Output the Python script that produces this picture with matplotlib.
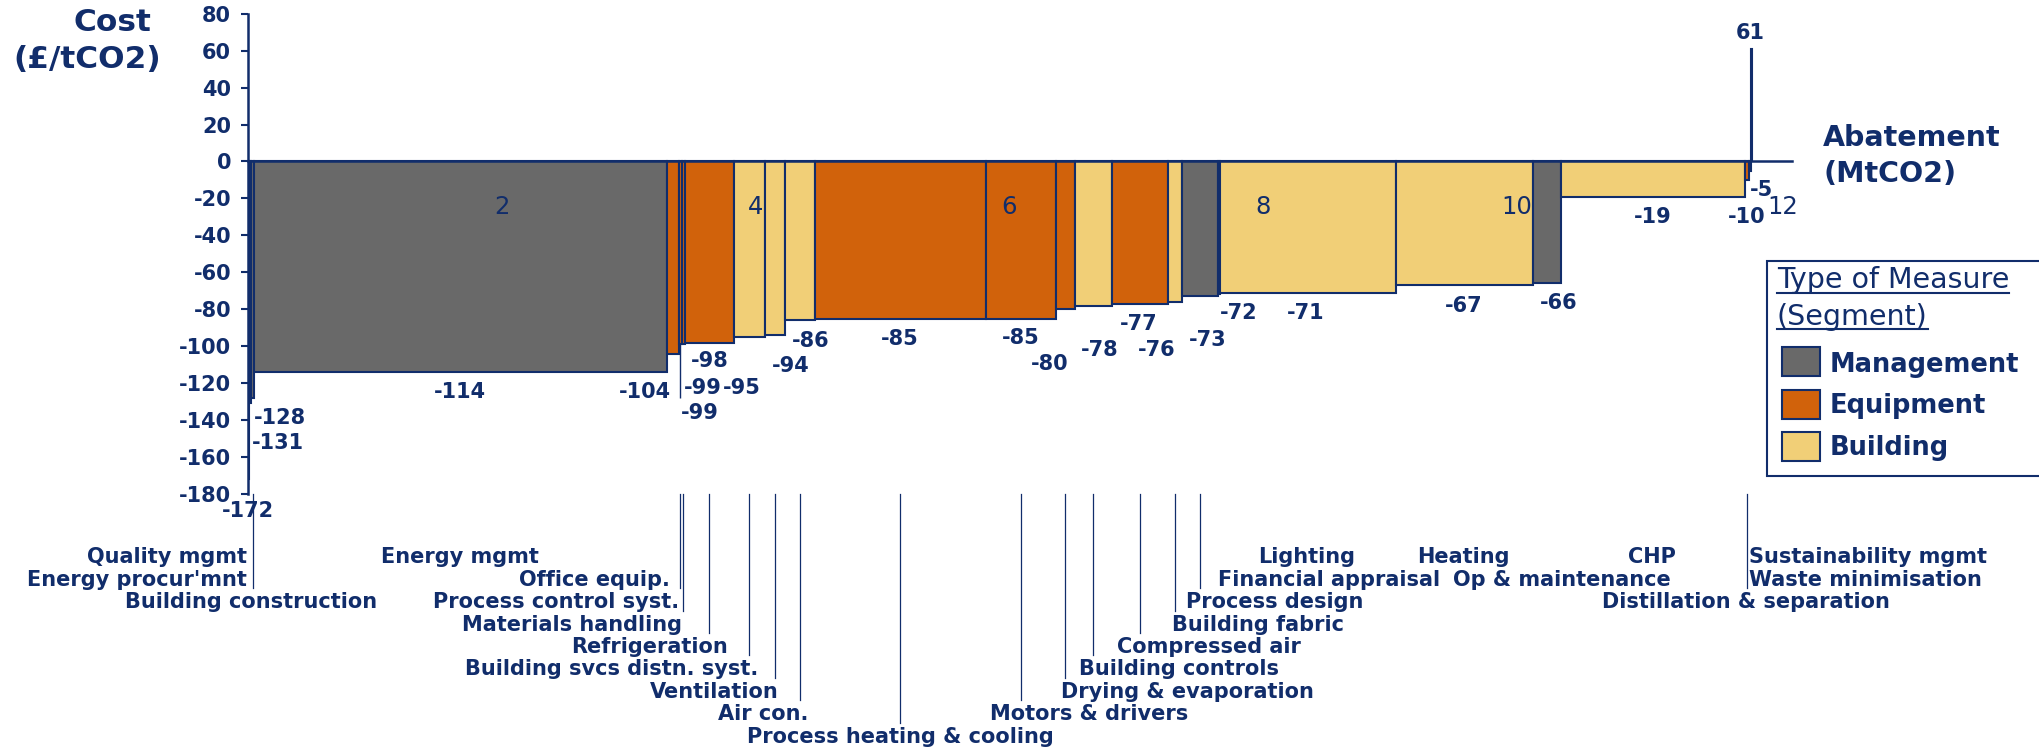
import numpy as np
import matplotlib
matplotlib.use('Agg')
import matplotlib.pyplot as plt
import matplotlib.transforms as mtransforms
from matplotlib.patches import Rectangle
from matplotlib.lines import Line2D

plt.rcParams['axes.unicode_minus'] = False

NAVY = "#112d6b"
SEGMENT_COLORS = {"Management": "#696969", "Equipment": "#d1620b", "Building": "#f1cf77"}
SEGMENTS = ["Management", "Equipment", "Building"]

# measures in curve order (cheapest first)
MEASURES = [
    "Quality mgmt", "Energy procur'mnt", "Building construction", "Energy mgmt",
    "Office equip.", "Process control syst.", "Materials handling", "Refrigeration",
    "Building svcs distn. syst.", "Ventilation", "Air con.", "Process heating & cooling",
    "Motors & drivers", "Drying & evaporation", "Building controls", "Compressed air",
    "Building fabric", "Process design", "Financial appraisal", "Lighting",
    "Heating", "Op & maintenance", "CHP", "Distillation & separation",
    "Sustainability mgmt", "Waste minimisation",
]
# abatement of each measure, MtCO2 (bar width)
ABATEMENT = [
    0.013, 0.013, 0.026, 3.252,
    0.094, 0.024, 0.024, 0.386,
    0.244, 0.158, 0.236, 1.348,
    0.552, 0.149, 0.292, 0.441,
    0.111, 0.283, 0.015, 1.388,
    1.079, 0.221, 1.450, 0.030,
    0.015, 0.012,
]
# cost, GBP per tCO2
COST = [
    -172, -131, -128, -114,
    -104, -99, -99, -98,
    -95, -94, -86, -85,
    -85, -80, -78, -77,
    -76, -73, -72, -71,
    -67, -66, -19, -10,
    -5, 61,
]
SEGMENT = [
    "Management", "Management", "Management", "Management",
    "Equipment", "Equipment", "Equipment", "Equipment",
    "Building", "Building", "Building", "Equipment",
    "Equipment", "Equipment", "Building", "Equipment",
    "Building", "Management", "Management", "Building",
    "Building", "Management", "Building", "Equipment",
    "Management", "Management",
]
X_TICKS = [2, 4, 6, 8, 10, 12]
Y_TICKS = list(range(-180, 81, 20))

# ---- layout (hand placed labels, as in the source chart) ----
# value labels: data y, x nudge from bar centre, alignment
VAL_Y = [-189, -152.6, -138.6, -125, -125, -136, -122.4, -108,
         -122.4, -110.9, -97, -95.9, -95.4, -109.4, -101.8, -87.8,
         -101.8, -96.4, -81.8, -81.8, -78, -76.6, -29.8, -29.8,
         -15.4, 69.3]
VAL_DX = [-0.0065, 0.0125, 0.007, -0.005, -0.012, 0.0, 0.006, 0.0,
          -0.064, 0.123, 0.084, -0.004, -0.004, -0.127, 0.051, -0.01,
          -0.145, 0.062, 0.157, -0.015, -0.009, 0.09, -0.004, -0.004,
          0.004, -0.01]
VAL_HA = ["center", "left", "left", "center", "right", "left", "left", "center",
          "center", "center", "center", "center", "center", "center", "center", "center",
          "center", "center", "center", "center", "center", "center", "center", "center",
          "left", "center"]
# category labels under the chart: row, alignment, x nudge, leader line
CAT_ROW = [1, 2, 3, 1, 2, 3, 4, 5, 6, 7, 8, 9, 8, 7, 6, 5, 4, 3, 2, 1, 1, 2, 1, 3, 1, 2]
CAT_HA = ["right", "right", "center", "center", "right", "right", "right", "right",
          "right", "right", "right", "center", "left", "left", "left", "left",
          "left", "left", "left", "center", "center", "center", "center", "center",
          "left", "left"]
CAT_DX = [-0.012, -0.025, -0.013, -0.005, -0.023, -0.009, -0.012, 0.144,
          0.066, 0.032, 0.066, -0.004, -0.245, -0.036, -0.117, -0.183,
          -0.02, -0.108, -0.01, -0.008, -0.007, 0.12, -0.008, -0.007,
          -0.003, -0.016]
CAT_LEADER = [False, False, True, False, False, True, True, True,
              True, True, True, True, True, True, True, True,
              True, True, False, False, False, False, False, True,
              False, False]

W, H = 2040, 751
AX_L, AX_R, AX_T, AX_B = 247.7, 1792.0, 13.7, 494.0
ROW1_PX, ROW_STEP = 557.3, 22.42


def fx(px):
    return px / W


def fy(py):
    return 1 - py / H


def ax_y(py):
    """pixel row (from top) -> axes fraction"""
    return (AX_B - py) / (AX_B - AX_T)


fig = plt.figure(figsize=(W / 100, H / 100), dpi=100)
ax = fig.add_axes([fx(AX_L), fy(AX_B), (AX_R - AX_L) / W, (AX_B - AX_T) / H])

widths = np.array(ABATEMENT)
lefts = np.concatenate([[0], np.cumsum(widths)[:-1]])
mids = lefts + widths / 2

ax.bar(lefts, COST, width=widths, align="edge",
       color=[SEGMENT_COLORS[s] for s in SEGMENT],
       edgecolor=NAVY, linewidth=1.5, zorder=1)

ax.set_xlim(0, 12.17)
ax.set_ylim(-180, 80)
ax.set_yticks(Y_TICKS)
ax.set_xticks(X_TICKS)
ax.set_xticklabels([str(t) for t in X_TICKS])

for s in ["top", "right"]:
    ax.spines[s].set_visible(False)
ax.spines["left"].set_color(NAVY)
ax.spines["left"].set_linewidth(1.8)
ax.spines["bottom"].set_position(("data", 0))
ax.spines["bottom"].set_color(NAVY)
ax.spines["bottom"].set_linewidth(1.8)
ax.spines["bottom"].set_zorder(4)

ax.tick_params(axis="y", direction="out", length=5, width=1.5, color=NAVY,
               labelcolor=NAVY, labelsize=15, pad=7)
for lab in ax.get_yticklabels():
    lab.set_fontweight("bold")
ax.tick_params(axis="x", length=0, pad=24, labelcolor=NAVY, labelsize=17.5)

# the last abatement tick label sits a little right of its tick in the source
last = ax.get_xticklabels()[-1]
last.set_transform(last.get_transform()
                   + mtransforms.ScaledTranslation(12 / 100, 0, fig.dpi_scale_trans))

# value labels
for i, c in enumerate(COST):
    ax.text(mids[i] + VAL_DX[i], VAL_Y[i], f"{c}", ha=VAL_HA[i], va="center",
            fontsize=15, fontweight="bold", color=NAVY, zorder=5)

# leader for the lower -99 label
ax.vlines(lefts[5] + 0.007, -128, COST[5], color=NAVY, linewidth=1.0, zorder=3)

# category labels and leader lines below the axis
xform = ax.get_xaxis_transform()
for i, name in enumerate(MEASURES):
    row_px = ROW1_PX + (CAT_ROW[i] - 1) * ROW_STEP
    ax.text(mids[i] + CAT_DX[i], ax_y(row_px), name, transform=xform,
            ha=CAT_HA[i], va="center", fontsize=15, fontweight="bold",
            color=NAVY, clip_on=False)
    if CAT_LEADER[i]:
        ax.plot([mids[i], mids[i]], [0, ax_y(row_px - 14)], transform=xform,
                color=NAVY, linewidth=0.9, clip_on=False)

# axis titles
fig.text(fx(151), fy(22.7), "Cost", ha="right", va="center",
         fontsize=22.5, fontweight="bold", color=NAVY)
fig.text(fx(161), fy(59.3), "(£/tCO2)", ha="right", va="center",
         fontsize=22.5, fontweight="bold", color=NAVY)
fig.text(fx(1823), fy(138), "Abatement", ha="left", va="center",
         fontsize=20.5, fontweight="bold", color=NAVY)
fig.text(fx(1823), fy(174), "(MtCO2)", ha="left", va="center",
         fontsize=20.5, fontweight="bold", color=NAVY)

# legend box (drawn by hand so the title can be underlined)
fig.patches.append(Rectangle((fx(1767), fy(476)), fx(2045) - fx(1767), fy(261) - fy(476),
                             transform=fig.transFigure, facecolor="white",
                             edgecolor=NAVY, linewidth=1.5))
titles = [
    fig.text(fx(1777), fy(280), "Type of Measure", ha="left", va="center",
             fontsize=20.5, color=NAVY),
    fig.text(fx(1777), fy(317), "(Segment)", ha="left", va="center",
             fontsize=20.5, color=NAVY),
]
for seg, (sw_y, tx_y) in zip(SEGMENTS, [(361.5, 365), (404, 406), (446.5, 448)]):
    fig.patches.append(Rectangle((fx(1782), fy(sw_y + 14.5)), fx(1820) - fx(1782), 29 / H,
                                 transform=fig.transFigure, facecolor=SEGMENT_COLORS[seg],
                                 edgecolor=NAVY, linewidth=1.5))
    fig.text(fx(1830), fy(tx_y), seg, ha="left", va="center",
             fontsize=18.5, fontweight="bold", color=NAVY)

fig.canvas.draw()
renderer = fig.canvas.get_renderer()
for t, uy in zip(titles, [292.7, 329.3]):
    bb = t.get_window_extent(renderer)
    fig.lines.append(Line2D([bb.x0 / W, bb.x1 / W], [fy(uy), fy(uy)],
                            transform=fig.transFigure, color=NAVY, linewidth=1.5))

fig.savefig("out.png", dpi=100)
plt.close(fig)
